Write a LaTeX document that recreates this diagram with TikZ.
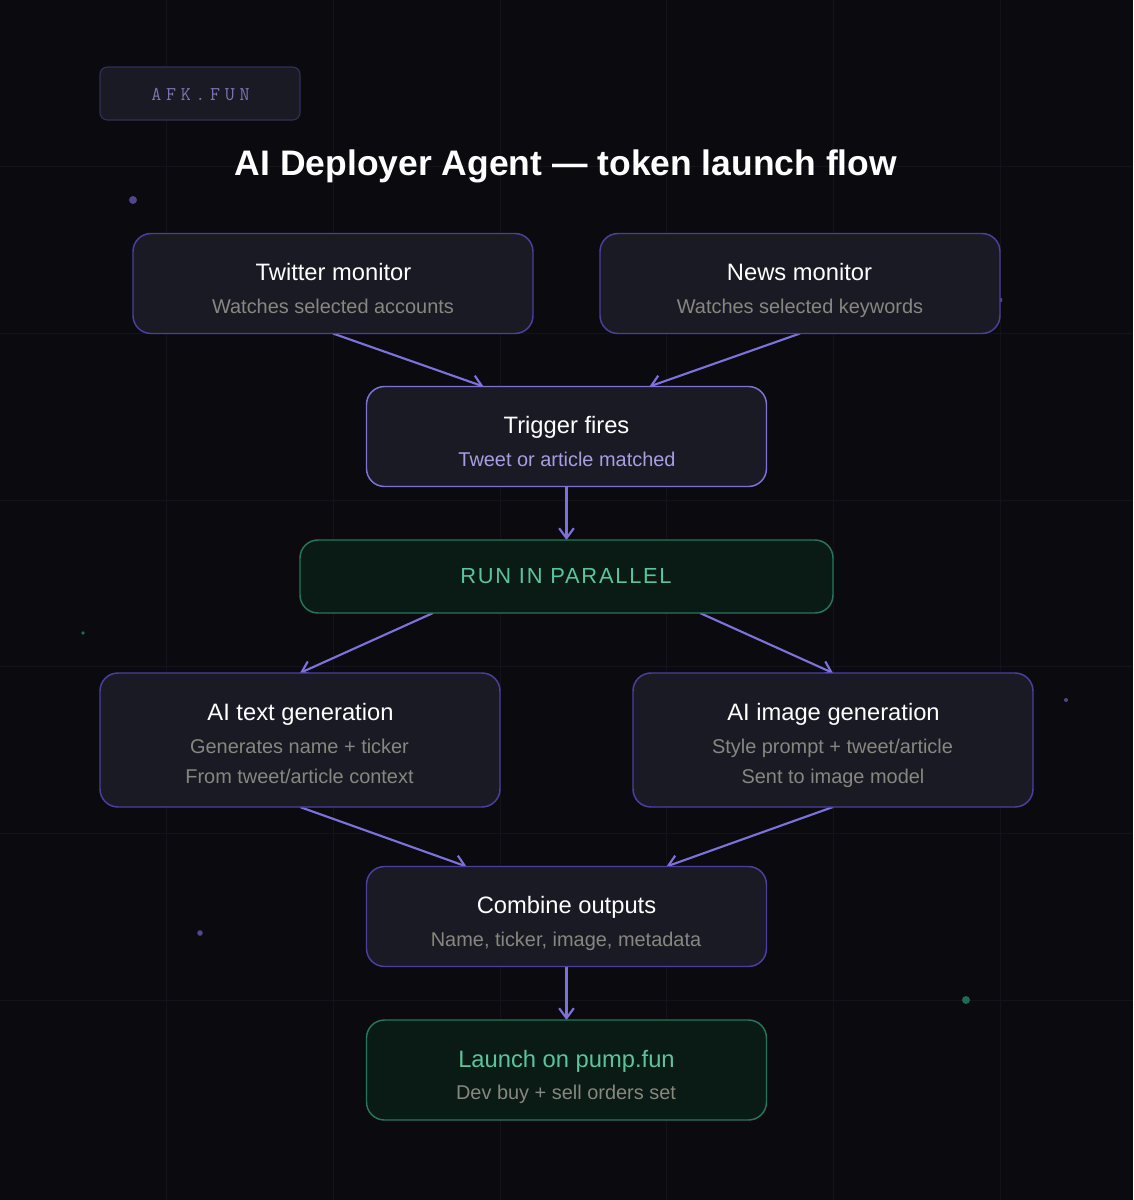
\documentclass[tikz,border=0pt]{standalone}
\usepackage{fontspec}
\setmainfont{Liberation Sans}
\newfontfamily\labelmono[LetterSpace=24]{Latin Modern Mono}
\newfontfamily\runsans[LetterSpace=8]{Liberation Sans}
\usetikzlibrary{arrows.meta,calc}
\definecolor{bgc}{HTML}{0A0A0F}
\definecolor{gridc}{HTML}{13131A}
\definecolor{boxf}{HTML}{1A1A24}
\definecolor{boxd}{HTML}{4B3FA0}
\definecolor{trigd}{HTML}{7C74D4}
\definecolor{arrc}{HTML}{7B72DB}
\definecolor{greenf}{HTML}{0A1A14}
\definecolor{greend}{HTML}{26775A}
\definecolor{greent}{HTML}{5CC49C}
\definecolor{subc}{HTML}{87877F}
\definecolor{subp}{HTML}{A59FE0}
\definecolor{labd}{HTML}{332D5C}
\definecolor{labt}{HTML}{7C74B4}
\definecolor{dotp}{HTML}{51458F}
\definecolor{dotg}{HTML}{1F6B50}
\pgfdeclarelayer{backdrop}
\pgfdeclarelayer{links}
\pgfsetlayers{backdrop,links,main}
\tikzset{
  x=0.75pt,y=-0.75pt,
  flowbox/.style={rectangle,rounded corners=13.5pt,draw=boxd,fill=boxf,line width=1.1pt,inner sep=0pt,outer sep=0pt,anchor=north west},
  trigbox/.style={flowbox,draw=trigd},
  greenbox/.style={flowbox,draw=greend,fill=greenf},
  labbox/.style={flowbox,draw=labd,rounded corners=5.5pt,line width=0.9pt},
  head/.style={anchor=base,text=white,font=\fontsize{17.8pt}{20pt}\selectfont,inner sep=0pt},
  sub/.style={anchor=base,text=subc,font=\fontsize{14.95pt}{18pt}\selectfont,inner sep=0pt},
  flow/.style={draw=arrc,line width=1.6pt,-{Straight Barb[length=7.5pt,width=11pt,line width=1.6pt]}},
  gridl/.style={draw=gridc,line width=0.75pt},
}
\newcommand{\flowbox}[5]{\node[#1,minimum width=#4*0.75pt,minimum height=#5*0.75pt] (#2) at (#3) {};}
\begin{document}
\begin{tikzpicture}
\begin{pgfonlayer}{backdrop}
\path[use as bounding box,fill=bgc] (0,0) rectangle (1133,1200);
\foreach \p in {166.5,333,500,666.5,833,1000}{
  \draw[gridl] (\p,0) -- (\p,1200);
  \draw[gridl] (0,\p) -- (1133,\p);
}
\fill[dotp] (133,200) circle (4);
\fill[dotg] (83,633) circle (1.8);
\fill[dotp] (1066,700) circle (2);
\fill[dotp] (200,933) circle (2.8);
\fill[dotg] (966,1000) circle (4);
\fill[dotp] (1000,300) circle (2.4);
\end{pgfonlayer}

\flowbox{labbox}{lab}{100,67}{200}{53}
\node[anchor=base,text=labt,font=\labelmono\fontsize{14.6pt}{16pt}\selectfont,inner sep=0pt] (labt) at (200.5,100) {AFK.FUN};
\node[anchor=base,text=white,font=\bfseries\fontsize{26.6pt}{30pt}\selectfont,inner sep=0pt] (title) at (566,175) {AI Deployer Agent — token launch flow};

\flowbox{flowbox}{tw}{133,233.5}{400}{100}
\flowbox{flowbox}{nw}{600,233.5}{400}{100}
\flowbox{trigbox}{tr}{366.5,386.5}{400}{100}
\flowbox{greenbox}{run}{300,540}{533}{73}
\flowbox{flowbox}{txt}{100,673}{400}{134}
\flowbox{flowbox}{img}{633,673}{400}{134}
\flowbox{flowbox}{cmb}{366.5,866.5}{400}{100}
\flowbox{greenbox}{lch}{366.5,1020}{400}{100}

\node[head] (tw1) at (333.5,280) {Twitter monitor};
\node[sub] (tw2) at (333,313) {Watches selected accounts};
\node[head] (nw1) at (799.5,280) {News monitor};
\node[sub] (nw2) at (800,313) {Watches selected keywords};
\node[head] (tr1) at (566.5,433) {Trigger fires};
\node[sub,text=subp] (tr2) at (567,466) {Tweet or article matched};
\node[anchor=base,text=greent,font=\runsans\fontsize{16.4pt}{20pt}\selectfont,inner sep=0pt] (run1) at (566,583) {RUN IN PARALLEL};
\node[head] (txt1) at (300.5,720) {AI text generation};
\node[sub] (txt2) at (299.5,753) {Generates name + ticker};
\node[sub] (txt3) at (299.5,783) {From tweet/article context};
\node[head] (img1) at (833.5,720) {AI image generation};
\node[sub] (img2) at (832.5,753) {Style prompt + tweet/article};
\node[sub] (img3) at (833,783) {Sent to image model};
\node[head] (cmb1) at (566.5,913) {Combine outputs};
\node[sub] (cmb2) at (566,946) {Name, ticker, image, metadata};
\node[head,text=greent] (lch1) at (566.5,1067) {Launch on pump.fun};
\node[sub] (lch2) at (566,1099) {Dev buy + sell orders set};

\coordinate (trL) at ($(tr.north west)+(117,0)$);
\coordinate (trR) at ($(tr.north west)+(283,0)$);
\coordinate (runL) at ($(run.south west)+(133,0)$);
\coordinate (runR) at ($(run.south west)+(400,0)$);
\coordinate (cmbL) at ($(cmb.north west)+(100,0)$);
\coordinate (cmbR) at ($(cmb.north west)+(300,0)$);
\begin{pgfonlayer}{links}
\draw[flow] (tw.south) -- (trL);
\draw[flow] (nw.south) -- (trR);
\draw[flow] (tr.south) -- (run.north);
\draw[flow] (runL) -- (txt.north);
\draw[flow] (runR) -- (img.north);
\draw[flow] (txt.south) -- (cmbL);
\draw[flow] (img.south) -- (cmbR);
\draw[flow] (cmb.south) -- (lch.north);
\end{pgfonlayer}
\end{tikzpicture}
\end{document}
